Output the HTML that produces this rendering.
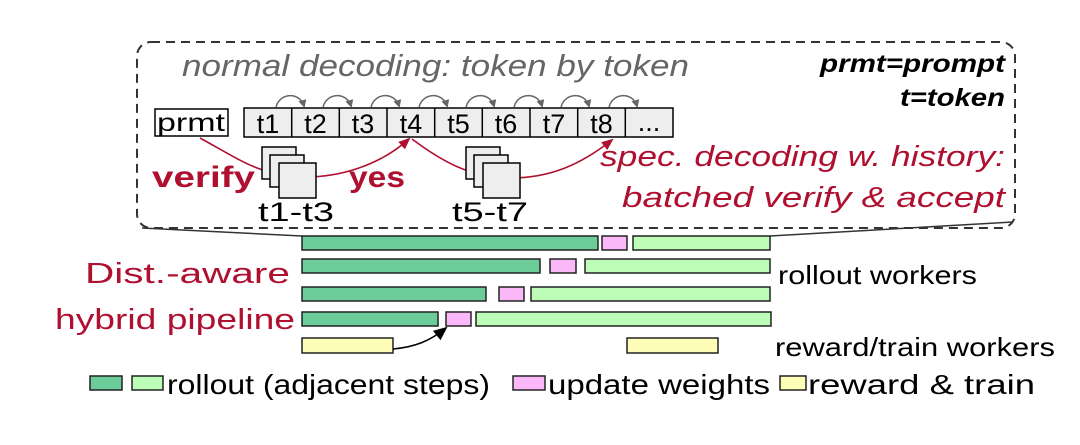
<!DOCTYPE html>
<html><head><meta charset="utf-8"><style>
body{margin:0;background:#fff}
svg text{font-family:"Liberation Sans",sans-serif}
</style></head><body>
<svg width="1080" height="440" viewBox="0 0 1080 440" xmlns="http://www.w3.org/2000/svg">
<defs>
<marker id="ag" markerWidth="8" markerHeight="8" refX="6" refY="4" orient="auto" markerUnits="userSpaceOnUse"><path d="M0,0 L8,4 L0,8 z" fill="#666"/></marker>
<marker id="ar" markerWidth="12" markerHeight="10" refX="10" refY="5" orient="auto" markerUnits="userSpaceOnUse"><path d="M0,0 L12,5 L0,10 z" fill="#b01030"/></marker>
<marker id="ab" markerWidth="14" markerHeight="12" refX="12" refY="6" orient="auto" markerUnits="userSpaceOnUse"><path d="M0,0 L14,6 L0,12 z" fill="#000"/></marker>
</defs>
<rect x="137" y="42" width="878" height="186" rx="14" fill="none" stroke="#333" stroke-width="2" stroke-dasharray="9,6"/>
<path d="M142,228 L302,236" stroke="#333" stroke-width="1.5" fill="none"/>
<path d="M1013,222 L770,236" stroke="#333" stroke-width="1.5" fill="none"/>
<text x="182" y="76" font-size="31" font-style="italic" fill="#666" textLength="507" lengthAdjust="spacingAndGlyphs">normal decoding: token by token</text>
<text x="1005" y="72" font-size="25" font-style="italic" font-weight="bold" text-anchor="end" textLength="185" lengthAdjust="spacingAndGlyphs">prmt=prompt</text>
<text x="1005" y="106" font-size="25" font-style="italic" font-weight="bold" text-anchor="end" textLength="105" lengthAdjust="spacingAndGlyphs">t=token</text>
<rect x="155" y="109" width="73" height="27" fill="#fff" stroke="#000" stroke-width="1.5"/>
<text x="191" y="131" font-size="25" text-anchor="middle" textLength="68" lengthAdjust="spacingAndGlyphs">prmt</text>
<rect x="244" y="108" width="429" height="29" stroke="#000" stroke-width="1.5" fill="#eee"/>
<g stroke="#000" stroke-width="1.5">
<line x1="291.7" y1="108" x2="291.7" y2="137"/><line x1="339.3" y1="108" x2="339.3" y2="137"/><line x1="387" y1="108" x2="387" y2="137"/><line x1="434.7" y1="108" x2="434.7" y2="137"/><line x1="482.3" y1="108" x2="482.3" y2="137"/><line x1="530" y1="108" x2="530" y2="137"/><line x1="577.7" y1="108" x2="577.7" y2="137"/><line x1="625.3" y1="108" x2="625.3" y2="137"/>
</g>
<g font-size="27" text-anchor="middle">
<text x="268" y="133">t1</text><text x="315.5" y="133">t2</text><text x="363" y="133">t3</text><text x="411" y="133">t4</text><text x="458.5" y="133">t5</text><text x="506" y="133">t6</text><text x="554" y="133">t7</text><text x="601.5" y="133">t8</text><text x="649" y="131">...</text>
</g>
<g stroke="#666" stroke-width="1.5" fill="none" marker-end="url(#ag)">
<path d="M276,107 C280,92 300,92 304,106"/>
<path d="M323,107 C327,92 347,92 351,106"/>
<path d="M371,107 C375,92 395,92 399,106"/>
<path d="M419,107 C423,92 443,92 447,106"/>
<path d="M466,107 C470,92 490,92 494,106"/>
<path d="M514,107 C518,92 538,92 542,106"/>
<path d="M561,107 C565,92 585,92 589,106"/>
<path d="M609,107 C613,92 633,92 637,106"/>
</g>
<g stroke="#b01030" stroke-width="1.6" fill="none" marker-end="url(#ar)">
<path d="M200,138 C240,160 260,175 300,177 C340,178 380,165 409,139"/>
<path d="M412,139 C440,160 470,178 510,178 C550,178 580,165 612,140"/>
</g>
<g stroke="#000" stroke-width="1.5" fill="#eee">
<rect x="262" y="147" width="34" height="32"/><rect x="270" y="155" width="34" height="32"/><rect x="279" y="163" width="37" height="35"/>
<rect x="466" y="147" width="34" height="32"/><rect x="474" y="155" width="34" height="32"/><rect x="483" y="163" width="37" height="35"/>
</g>
<text x="152" y="187" font-size="30" font-weight="bold" fill="#b01030" textLength="103" lengthAdjust="spacingAndGlyphs">verify</text>
<text x="349" y="187" font-size="30" font-weight="bold" fill="#b01030" textLength="56" lengthAdjust="spacingAndGlyphs">yes</text>
<text x="296" y="221" font-size="27" text-anchor="middle" textLength="76" lengthAdjust="spacingAndGlyphs">t1-t3</text>
<text x="490" y="221" font-size="27" text-anchor="middle" textLength="76" lengthAdjust="spacingAndGlyphs">t5-t7</text>
<text x="1005" y="166" font-size="29" font-style="italic" fill="#b01030" text-anchor="end" textLength="405" lengthAdjust="spacingAndGlyphs">spec. decoding w. history:</text>
<text x="1005" y="207" font-size="29" font-style="italic" fill="#b01030" text-anchor="end" textLength="383" lengthAdjust="spacingAndGlyphs">batched verify &amp; accept</text>
<g stroke="#222" stroke-width="1.5">
<rect x="302" y="236" width="296" height="14" fill="#6dcd9a"/><rect x="602" y="236" width="25" height="14" fill="#fbb8f8"/><rect x="633" y="236" width="137" height="14" fill="#bdfdb8"/>
<rect x="302" y="259" width="238" height="14" fill="#6dcd9a"/><rect x="550" y="259" width="26" height="14" fill="#fbb8f8"/><rect x="585" y="259" width="185" height="14" fill="#bdfdb8"/>
<rect x="302" y="287" width="184" height="14" fill="#6dcd9a"/><rect x="499" y="287" width="25" height="14" fill="#fbb8f8"/><rect x="531" y="287" width="239" height="14" fill="#bdfdb8"/>
<rect x="302" y="312" width="136" height="14" fill="#6dcd9a"/><rect x="446" y="312" width="25" height="14" fill="#fbb8f8"/><rect x="476" y="312" width="295" height="14" fill="#bdfdb8"/>
<rect x="302" y="338" width="91" height="15" fill="#fdfdb8"/><rect x="627" y="338" width="91" height="15" fill="#fdfdb8"/>
</g>
<path d="M393,349 C415,347 430,341 446,328" stroke="#000" stroke-width="1.5" fill="none" marker-end="url(#ab)"/>
<text x="290" y="283" font-size="29" fill="#b01030" text-anchor="end" textLength="205" lengthAdjust="spacingAndGlyphs">Dist.-aware</text>
<text x="295" y="329" font-size="29" fill="#b01030" text-anchor="end" textLength="240" lengthAdjust="spacingAndGlyphs">hybrid pipeline</text>
<text x="778" y="284" font-size="26" textLength="199" lengthAdjust="spacingAndGlyphs">rollout workers</text>
<text x="775" y="356" font-size="26" textLength="280" lengthAdjust="spacingAndGlyphs">reward/train workers</text>
<g stroke="#222" stroke-width="1.5">
<rect x="90" y="376" width="32" height="14" fill="#6dcd9a"/><rect x="132" y="376" width="31" height="14" fill="#bdfdb8"/>
<rect x="513" y="376" width="32" height="14" fill="#fbb8f8"/><rect x="780" y="376" width="26" height="14" fill="#fdfdb8"/>
</g>
<text x="167" y="394" font-size="28" textLength="323" lengthAdjust="spacingAndGlyphs">rollout (adjacent steps)</text>
<text x="548" y="394" font-size="28" textLength="222" lengthAdjust="spacingAndGlyphs">update weights</text>
<text x="808" y="394" font-size="28" textLength="227" lengthAdjust="spacingAndGlyphs">reward &amp; train</text>
</svg>
</body></html>
